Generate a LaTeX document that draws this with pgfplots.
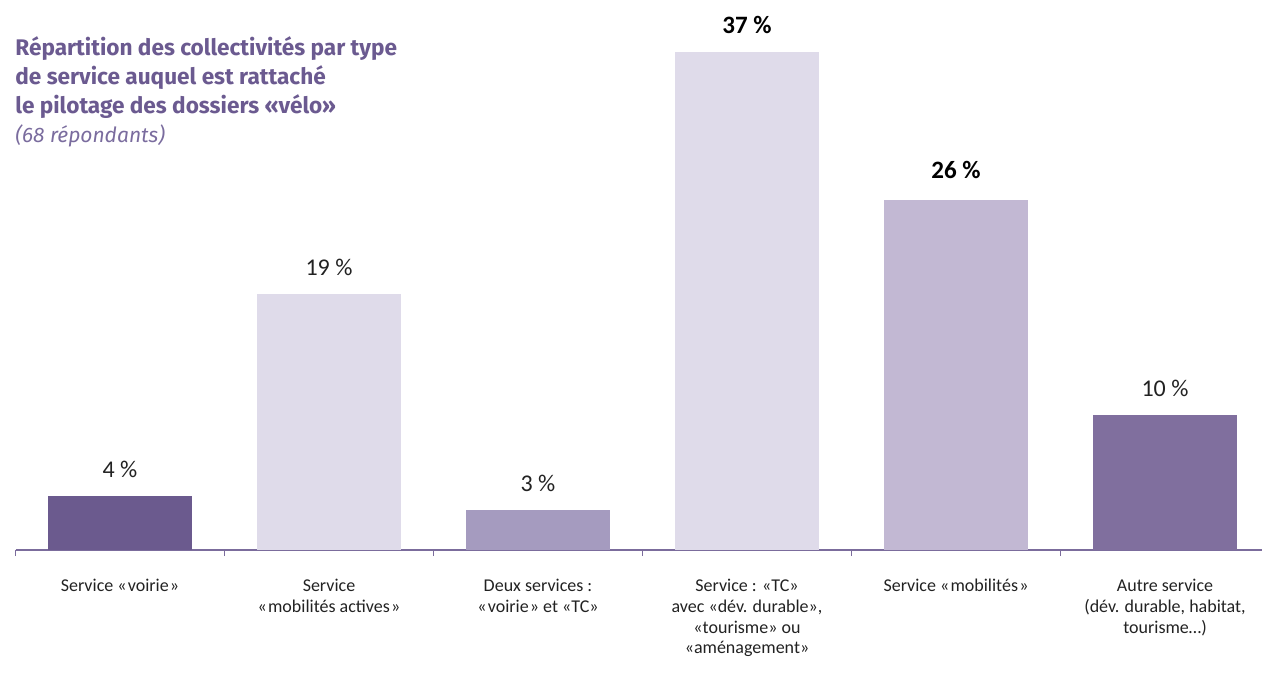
\documentclass[border=0pt]{standalone}
\usepackage{fontspec}
\setmainfont{Carlito}
\newfontfamily\titlefont{Fira Sans}
\usepackage{pgfplots}
\pgfplotsset{compat=1.18}
\definecolor{cA}{HTML}{6B5A8E}
\definecolor{cB}{HTML}{DFDBEA}
\definecolor{cC}{HTML}{A59BBF}
\definecolor{cD}{HTML}{DFDBEA}
\definecolor{cE}{HTML}{C2B8D3}
\definecolor{cF}{HTML}{806F9E}
\definecolor{axcol}{HTML}{7B6C9C}
\definecolor{titcol}{HTML}{6B5A90}
\definecolor{subcol}{HTML}{7A6C9E}
\definecolor{txt}{HTML}{222222}
\begin{document}
\begin{tikzpicture}
\path[use as bounding box] (0,0) rectangle (631pt,343pt);
\begin{axis}[
  at={(7.75pt,68pt)}, anchor=south west,
  scale only axis, width=623.25pt, height=249pt,
  xmin=-0.5, xmax=5.464, ymin=0, ymax=37,
  axis x line*=bottom, axis y line=none,
  x axis line style={draw=axcol, line width=1pt, -},
  clip=false,
  ybar, bar width=72pt, /pgf/bar shift=0pt,
  xtick={0,1,2,3,4,5},
  xticklabels={{Service «\kern0.6pt voirie\kern0.6pt»},{Service\\«\kern0.6pt mobilités actives\kern0.6pt»},{Deux services :\\«\kern0.6pt voirie\kern0.6pt» et «TC»},{Service : «TC»\\avec «dév. durable»,\\«tourisme» ou\\«aménagement»},{Service «\kern0.6pt mobilités\kern0.6pt»},{Autre service\\(dév. durable, habitat,\\tourisme…)}},
  xticklabel style={font=\fontsize{9}{10.4}\selectfont, align=center, anchor=north, text=txt, yshift=-11pt},
  major tick length=0pt,
  extra x ticks={-0.5,0.5,1.5,2.5,3.5,4.5},
  extra x tick labels={},
  extra x tick style={major tick length=3pt, tick align=outside, tick style={draw=axcol, line width=0.8pt}},
  nodes near coords style={anchor=south, inner sep=0pt, yshift=9pt, text=txt},
]
\addplot[fill=cA, draw=none, nodes near coords={4~\%}, nodes near coords style={font=\fontsize{12}{14}\selectfont}] coordinates {(0,4)};
\addplot[fill=cB, draw=none, nodes near coords={19~\%}, nodes near coords style={font=\fontsize{12}{14}\selectfont}] coordinates {(1,19)};
\addplot[fill=cC, draw=none, nodes near coords={3~\%}, nodes near coords style={font=\fontsize{12}{14}\selectfont}] coordinates {(2,3)};
\addplot[fill=cD, draw=none, nodes near coords={37~\%}, nodes near coords style={font=\fontsize{12.5}{14}\selectfont\bfseries, text=black}] coordinates {(3,37)};
\addplot[fill=cE, draw=none, nodes near coords={26~\%}, nodes near coords style={font=\fontsize{12.5}{14}\selectfont\bfseries, text=black, yshift=1.5pt}] coordinates {(4,26)};
\addplot[fill=cF, draw=none, nodes near coords={10~\%}, nodes near coords style={font=\fontsize{12}{14}\selectfont}] coordinates {(5,10)};
\end{axis}
\node[anchor=base west, inner sep=0pt, text=titcol, font=\titlefont\bfseries\fontsize{11.3}{14.5}\selectfont] at (7.5pt,315pt) {Répartition des collectivités par type};
\node[anchor=base west, inner sep=0pt, text=titcol, font=\titlefont\bfseries\fontsize{11.3}{14.5}\selectfont] at (7.5pt,300.5pt) {de service auquel est rattaché};
\node[anchor=base west, inner sep=0pt, text=titcol, font=\titlefont\bfseries\fontsize{11.3}{14.5}\selectfont] at (7.5pt,286pt) {le pilotage des dossiers «vélo»};
\node[anchor=base west, inner sep=0pt, text=subcol, font=\titlefont\itshape\fontsize{10.5}{14.5}\selectfont] at (7.5pt,271.5pt) {(68 répondants)};
\end{tikzpicture}
\end{document}
